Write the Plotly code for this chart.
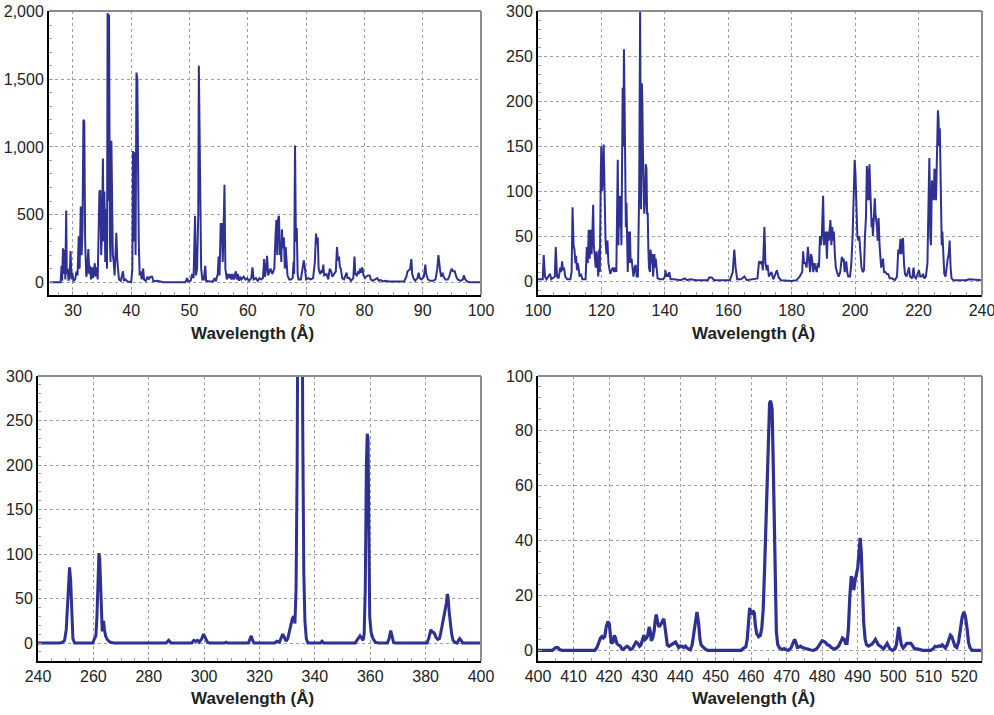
import plotly.graph_objects as go

# ---------------- data ----------------
wl1 = [26.0, 27.9, 28.05, 28.15, 28.3, 28.45, 28.55, 28.7, 28.85, 28.95, 29.1, 29.25, 29.45, 29.6, 29.75, 29.9,
       30.1, 30.4, 30.6, 30.8, 31.0, 31.15, 31.35, 31.5, 31.65, 31.8, 31.95, 32.1, 32.3, 32.45, 32.65, 32.8,
       32.95, 33.1, 33.3, 33.45, 33.6, 33.75, 33.9, 34.1, 34.25, 34.45, 34.55, 34.7, 34.85, 35.0, 35.15, 35.25,
       35.4, 35.55, 35.7, 35.85, 35.95, 36.1, 36.2, 36.35, 36.45, 36.6, 36.75, 36.85, 37.0, 37.15, 37.3, 37.45,
       37.6, 37.75, 37.9, 38.2, 38.6, 38.75, 39.0, 39.4, 40.0, 40.2, 40.3, 40.45, 40.6, 40.75, 40.9, 41.05,
       41.2, 41.3, 41.45, 41.6, 41.8, 42.05, 42.2, 42.5, 42.8, 43.0, 43.3, 43.6, 43.8, 44.4, 45.0, 45.5,
       49.3, 49.6, 49.8, 50.2, 50.45, 50.7, 50.95, 51.1, 51.3, 51.5, 51.6, 51.75, 51.85, 52.0, 52.2, 52.45,
       52.7, 52.85, 53.5, 54.0, 54.3, 54.5, 54.85, 55.0, 55.15, 55.35, 55.55, 55.7, 55.9, 56.0, 56.15, 56.4,
       56.6, 56.8, 57.0, 57.2, 57.4, 57.6, 57.95, 58.1, 58.3, 58.5, 58.7, 58.9, 59.3, 59.6, 59.9, 60.2,
       60.6, 60.8, 61.0, 61.4, 61.7, 62.0, 62.3, 62.6, 62.8, 62.95, 63.15, 63.3, 63.5, 63.9, 64.2, 64.55,
       64.75, 64.9, 65.05, 65.2, 65.35, 65.5, 65.6, 65.75, 65.85, 66.0, 66.2, 66.35, 66.5, 66.65, 66.8, 67.1,
       67.4, 67.7, 67.85, 67.95, 68.1, 68.25, 68.4, 68.55, 68.7, 69.1, 69.45, 69.6, 69.75, 70.0, 70.4, 70.8,
       71.2, 71.5, 71.7, 71.85, 72.0, 72.15, 72.4, 72.6, 72.8, 72.95, 73.1, 73.5, 73.8, 74.05, 74.3, 74.5,
       74.8, 75.1, 75.3, 75.45, 75.65, 75.8, 75.95, 76.2, 76.5, 76.8, 76.95, 77.1, 77.4, 77.7, 78.1, 78.3,
       78.45, 78.7, 78.95, 79.1, 79.25, 79.45, 79.65, 79.85, 80.1, 80.3, 80.6, 80.9, 81.1, 81.4, 81.8, 82.2,
       82.5, 82.8, 83.2, 83.6, 84.2, 84.8, 85.5, 86.2, 86.8, 87.2, 87.4, 87.7, 87.85, 88.05, 88.2, 88.4,
       88.7, 89.1, 89.3, 89.5, 89.8, 90.2, 90.45, 90.6, 90.9, 91.3, 91.8, 92.2, 92.5, 92.7, 92.85, 93.0,
       93.2, 93.4, 93.6, 93.9, 94.3, 94.55, 94.8, 95.0, 95.2, 95.5, 95.75, 96.0, 96.5, 96.9, 97.05, 97.3,
       97.6, 98.0, 100.0]
int1 = [0, 0, 120, 10, 250, 60, 240, 20, 530, 60, 100, 10, 60, 230, 20, 70,
        10, 20, 80, 50, 340, 100, 560, 200, 400, 1200, 1190, 300, 40, 80, 245, 60,
        120, 20, 110, 30, 80, 140, 40, 110, 20, 350, 670, 680, 200, 400, 915, 300,
        670, 150, 540, 100, 1990, 600, 1980, 300, 150, 1045, 600, 200, 150, 50, 200, 365,
        170, 100, 20, 10, 80, 10, 20, 5, 0, 100, 970, 300, 960, 200, 1550, 1500,
        500, 300, 50, 80, 20, 100, 20, 10, 40, 20, 40, 40, 5, 10, 5, 0,
        0, 30, 5, 10, 60, 30, 490, 50, 100, 500, 1600, 1030, 400, 100, 20, 20,
        120, 10, 5, 5, 30, 5, 60, 190, 50, 430, 430, 150, 500, 720, 100, 20,
        60, 30, 60, 20, 60, 20, 80, 20, 60, 10, 40, 20, 40, 20, 30, 10,
        30, 110, 20, 30, 10, 30, 20, 30, 170, 40, 100, 195, 50, 100, 60, 100,
        340, 460, 200, 470, 490, 200, 300, 150, 390, 250, 330, 100, 260, 80, 50, 20,
        20, 30, 150, 60, 1010, 300, 400, 60, 20, 20, 120, 160, 120, 20, 30, 20,
        30, 150, 360, 280, 330, 100, 60, 80, 70, 130, 50, 60, 20, 100, 80, 40,
        60, 80, 260, 160, 190, 110, 100, 30, 20, 50, 70, 30, 30, 10, 30, 190,
        60, 50, 80, 60, 100, 70, 110, 50, 30, 40, 50, 50, 20, 10, 20, 30,
        10, 15, 5, 10, 5, 5, 2, 0, 5, 40, 80, 90, 100, 170, 60, 30,
        10, 30, 70, 30, 20, 40, 130, 60, 20, 10, 10, 20, 100, 200, 120, 80,
        40, 70, 40, 20, 20, 40, 80, 100, 80, 80, 40, 20, 10, 20, 50, 20,
        5, 0, 0]

wl2 = [100.0, 101.5, 101.8, 102.2, 102.7, 103.8, 104.2, 105.3, 105.6, 106.0, 106.5, 107.0, 107.3, 107.6, 107.9,
       108.2, 108.6, 109.2, 110.2, 110.6, 110.9, 111.2, 111.5, 111.8, 112.0, 112.3, 112.5, 112.8, 113.1, 113.5,
       114.0, 115.0, 115.4, 115.7, 116.0, 116.3, 116.6, 116.9, 117.2, 117.4, 117.6, 117.9, 118.2, 118.5, 118.8,
       119.0, 119.3, 119.5, 119.8, 119.95, 120.2, 120.5, 120.7, 120.9, 121.1, 121.3, 121.6, 121.9, 122.2, 122.5,
       122.8, 123.2, 123.6, 124.0, 124.4, 124.7, 125.0, 125.15, 125.35, 125.6, 125.85, 126.0, 126.3, 126.5, 126.7,
       126.9, 127.1, 127.3, 127.5, 127.7, 127.9, 128.1, 128.3, 128.6, 128.8, 129.0, 129.2, 129.5, 129.8, 130.1,
       130.5, 130.8, 131.1, 131.5, 131.9, 132.2, 132.5, 132.75, 132.9, 133.1, 133.3, 133.5, 133.8, 134.0, 134.2,
       134.4, 134.6, 134.8, 135.0, 135.3, 135.5, 135.8, 136.0, 136.3, 136.7, 136.9, 137.1, 137.4, 137.7, 138.5,
       139.5, 140.0, 140.2, 140.5, 140.8, 141.1, 141.4, 141.8, 143.0, 145.0, 146.3, 147.0, 148.0, 150.0, 153.5,
       154.0, 154.8, 155.5, 158.0, 160.5, 161.4, 161.9, 162.3, 162.8, 164.0, 165.1, 165.8, 168.0, 169.2, 169.7,
       170.2, 170.6, 170.9, 171.4, 171.7, 172.1, 172.4, 172.8, 173.3, 173.6, 174.2, 175.0, 175.3, 175.9, 176.6,
       180.0, 181.5, 182.5, 183.3, 183.6, 183.9, 184.3, 184.7, 185.1, 185.5, 185.8, 186.1, 186.4, 186.8, 187.2,
       187.5, 187.9, 188.2, 188.6, 188.9, 189.2, 189.5, 189.9, 190.2, 190.5, 190.8, 191.1, 191.4, 191.7, 192.0,
       192.2, 192.5, 192.8, 193.0, 193.3, 193.6, 193.9, 194.3, 194.8, 195.3, 195.8, 196.1, 196.4, 196.7, 197.0,
       197.2, 197.5, 197.8, 198.4, 198.8, 199.2, 199.6, 199.85, 200.1, 200.4, 200.7, 201.0, 201.3, 201.7, 202.0,
       202.4, 202.8, 203.1, 203.4, 203.7, 203.9, 204.1, 204.3, 204.5, 204.7, 204.9, 205.2, 205.4, 205.6, 205.9,
       206.2, 206.4, 206.6, 206.9, 207.1, 207.4, 207.7, 207.9, 208.2, 208.5, 208.8, 209.1, 209.5, 210.0, 210.4,
       210.9, 211.6, 212.5, 213.2, 213.6, 213.9, 214.3, 214.6, 214.9, 215.1, 215.4, 215.7, 216.2, 216.7, 217.0,
       217.3, 218.0, 218.4, 218.7, 219.2, 219.8, 220.1, 220.5, 221.0, 221.4, 221.8, 222.3, 222.8, 223.2, 223.4,
       223.7, 223.9, 224.2, 224.5, 224.8, 225.0, 225.2, 225.5, 225.7, 225.9, 226.1, 226.3, 226.5, 226.7, 226.9,
       227.1, 227.3, 227.5, 227.8, 228.1, 228.5, 228.9, 229.2, 229.5, 229.8, 230.1, 230.4, 231.0, 235.0, 236.0,
       240.0]
int2 = [2, 2, 29, 5, 2, 8, 2, 5, 38, 5, 3, 15, 10, 22, 12,
        15, 5, 2, 2, 10, 82, 40, 35, 20, 28, 12, 20, 15, 5, 8,
        2, 2, 38, 20, 57, 25, 57, 30, 60, 85, 40, 25, 15, 33, 10,
        5, 35, 10, 120, 150, 100, 120, 152, 100, 80, 45, 30, 45, 20, 15,
        8, 12, 15, 10, 15, 10, 100, 135, 40, 95, 60, 95, 40, 100, 215,
        150, 258, 200, 140, 60, 87, 30, 10, 55, 20, 55, 20, 25, 10, 5,
        15, 18, 5, 5, 100, 300, 80, 220, 200, 140, 100, 75, 90, 130, 125,
        75, 75, 35, 15, 10, 35, 20, 30, 5, 30, 15, 25, 15, 3, 2,
        2, 5, 12, 5, 8, 5, 10, 2, 2, 1, 3, 1, 2, 1, 1,
        4, 4, 1, 1, 1, 10, 35, 15, 2, 2, 5, 1, 2, 3, 22,
        20, 22, 12, 60, 20, 12, 18, 5, 8, 10, 2, 8, 12, 4, 1,
        0, 1, 5, 10, 33, 20, 20, 15, 38, 15, 10, 30, 25, 10, 20,
        15, 10, 20, 15, 50, 40, 50, 95, 40, 50, 55, 25, 55, 45, 58,
        68, 40, 60, 45, 55, 30, 15, 10, 5, 10, 27, 22, 25, 10, 15,
        22, 10, 5, 5, 20, 50, 110, 135, 120, 90, 50, 45, 50, 30, 15,
        10, 12, 50, 70, 128, 90, 125, 90, 130, 100, 75, 60, 70, 50, 70,
        92, 75, 70, 60, 45, 70, 40, 30, 15, 20, 25, 10, 10, 8, 8,
        3, 3, 1, 5, 35, 30, 47, 30, 45, 48, 20, 8, 5, 10, 15,
        5, 3, 15, 5, 3, 8, 12, 5, 5, 8, 3, 5, 20, 100, 137,
        50, 40, 112, 100, 90, 125, 120, 90, 130, 160, 190, 180, 150, 170, 130,
        60, 40, 55, 20, 8, 5, 20, 25, 30, 45, 15, 3, 1, 1, 2,
        1]

wl3 = [240.0, 248.0, 249.0, 249.6, 250.2, 250.6, 251.0, 251.4, 251.8, 252.2, 252.6, 253.2, 259.8, 260.4, 260.9,
       261.3, 261.7, 262.0, 262.3, 262.6, 262.9, 263.2, 263.5, 263.7, 264.0, 264.4, 265.0, 266.0, 267.5, 286.3,
       287.2, 288.0, 295.5, 296.3, 297.0, 297.6, 298.2, 299.0, 299.8, 300.5, 301.2, 302.0, 307.3, 307.9, 308.5,
       316.0, 316.6, 317.0, 317.5, 318.0, 325.5, 326.3, 327.2, 327.8, 328.4, 328.9, 329.6, 330.2, 330.8, 331.4,
       331.9, 332.4, 332.8, 333.2, 333.6, 334.0, 334.4, 334.8, 335.2, 335.6, 336.0, 336.4, 336.9, 337.5, 342.0,
       342.6, 343.2, 354.5, 355.3, 356.3, 357.0, 357.4, 357.8, 358.2, 358.6, 358.9, 359.2, 359.5, 359.8, 360.3,
       361.0, 361.8, 363.0, 366.2, 366.8, 367.4, 367.9, 368.4, 369.0, 380.5, 381.1, 381.6, 381.9, 382.3, 382.8,
       383.3, 383.8, 384.4, 385.0, 385.5, 385.9, 386.3, 386.7, 387.1, 387.5, 387.8, 388.1, 388.5, 388.9, 389.4,
       389.9, 390.5, 391.3, 391.9, 392.3, 392.8, 393.4, 400.0]
int3 = [0, 0, 1, 3, 15, 45, 75, 85, 70, 30, 5, 0, 0, 5, 8,
        30, 80, 101, 95, 60, 20, 13, 22, 25, 15, 8, 4, 1, 0, 0,
        3, 0, 0, 3, 2, 3, 1, 4, 10, 5, 1, 0, 0, 1, 0,
        0, 4, 8, 3, 0, 0, 2, 1, 5, 10, 7, 2, 5, 12, 20,
        28, 30, 22, 60, 200, 500, 700, 700, 600, 250, 80, 25, 5, 0, 0,
        2, 0, 0, 4, 8, 5, 3, 10, 60, 200, 235, 230, 120, 30, 12,
        5, 1, 0, 0, 5, 14, 7, 1, 0, 0, 5, 13, 15, 12, 12,
        10, 6, 4, 5, 12, 18, 28, 33, 38, 45, 55, 52, 35, 20, 10,
        3, 1, 0, 3, 5, 3, 0, 0]

wl4 = [400.0, 404.0, 404.5, 405.0, 405.6, 406.2, 406.8, 416.0, 416.6, 417.1, 417.6, 418.0, 418.4, 418.8, 419.2,
       419.7, 420.1, 420.4, 420.7, 421.1, 421.5, 421.8, 422.2, 422.6, 423.2, 423.6, 424.0, 424.6, 425.1, 425.6,
       426.0, 426.5, 427.1, 427.6, 428.1, 428.6, 429.0, 429.5, 429.8, 430.2, 430.6, 430.9, 431.3, 431.6, 431.9,
       432.3, 432.7, 433.0, 433.3, 433.7, 434.1, 434.6, 435.0, 435.4, 435.7, 436.0, 436.4, 436.9, 437.5, 438.2,
       438.7, 439.2, 439.6, 440.0, 440.5, 441.0, 441.5, 442.0, 442.5, 442.9, 443.4, 443.8, 444.3, 444.75, 445.2,
       445.6, 445.9, 446.5, 447.2, 447.8, 457.2, 457.9, 458.5, 458.9, 459.3, 459.6, 459.9, 460.2, 460.5, 460.9,
       461.2, 461.6, 462.1, 462.6, 463.0, 463.4, 463.8, 464.3, 464.8, 465.2, 465.5, 465.9, 466.2, 466.5, 466.8,
       467.1, 467.5, 468.0, 468.8, 469.3, 469.8, 470.5, 471.2, 471.8, 472.25, 472.7, 473.0, 473.5, 473.9, 474.4,
       474.9, 475.4, 476.0, 476.8, 477.6, 478.4, 479.0, 479.5, 480.0, 480.5, 481.0, 481.5, 482.0, 482.5, 483.0,
       483.5, 484.0, 484.6, 485.2, 485.7, 486.2, 486.6, 487.0, 487.4, 487.8, 488.2, 488.5, 488.9, 489.2, 489.6,
       490.0, 490.4, 490.7, 491.0, 491.3, 491.7, 492.1, 492.5, 493.0, 493.5, 494.0, 494.5, 495.0, 495.4, 495.8,
       496.4, 496.9, 497.3, 497.8, 498.3, 498.7, 499.1, 499.8, 500.5, 500.9, 501.2, 501.55, 501.9, 502.3, 502.8,
       503.3, 503.8, 504.5, 505.0, 505.5, 506.0, 506.8, 507.5, 508.3, 510.5, 511.2, 511.8, 512.4, 512.9, 513.4,
       513.8, 514.3, 514.7, 515.2, 515.7, 516.1, 516.5, 516.9, 517.4, 517.9, 518.4, 518.9, 519.4, 519.9, 520.3,
       520.8, 521.2, 521.6, 522.2, 525.0]
int4 = [0, 0, 0.5, 1, 1, 0.2, 0, 0, 1, 3, 4.5, 5, 4.5, 5, 8.5,
        10.5, 9.5, 5, 2.5, 3, 5.5, 4.5, 2.5, 2, 1.5, 0.5, 0.3, 1, 1.5, 1,
        0.3, 0.5, 2, 3, 2.5, 1.5, 2, 5, 5.5, 4, 4.5, 5.5, 8.5, 7, 3.5,
        4.5, 7, 11, 13, 10, 8.5, 9.5, 10.5, 11.5, 9, 5, 2, 1.5, 2, 2.5,
        3, 2, 1, 1.5, 1.5, 1, 1.5, 0.8, 0.3, 0.2, 2, 5, 10, 14, 10,
        4, 2, 1.2, 0.3, 0, 0, 0.8, 1.2, 4, 10, 15.5, 14, 13, 14.5, 13.5,
        9, 6, 5, 5.5, 8, 15, 30, 55, 80, 90, 91, 88, 70, 45, 20,
        7, 2, 0.8, 0.3, 0.6, 0.2, 0, 0.8, 2.5, 4, 2.5, 1, 1.2, 1.5, 1,
        0.8, 0.6, 0.3, 0.1, 0, 0.5, 1.5, 2.5, 3.5, 3.2, 2.8, 2, 1.8, 1, 0.8,
        0.4, 0.8, 1.5, 3, 4.5, 4, 2.5, 2.5, 8, 20, 27, 26, 22, 25, 27,
        30, 36, 41, 36, 25, 10, 4, 2, 1.5, 1.8, 2.2, 3, 4, 3, 2,
        1.5, 0.8, 0.5, 1.5, 2.5, 1.5, 0.5, 0, 0.5, 2, 5, 8.5, 5, 2, 0.8,
        1.5, 2.5, 2.5, 2.5, 1.5, 0.5, 0.5, 0.4, 0, 0, 0.5, 1.5, 1.3, 1.6, 1.5,
        2, 1.5, 0.8, 2, 4, 5.5, 5, 3, 1.5, 1, 3, 7.5, 12, 14, 12.5,
        8, 3, 1, 0, 0]

x_title = "Wavelength (Å)"

# ---------------- styling ----------------
LINE = "#2e3192"
GRID = "#a0a0a0"
FRAME = "#8c8c8c"
FONT = "Liberation Sans, Arial, sans-serif"
W, H = 994, 715

panels = [
    dict(xpx=(49, 481), ypx=(11, 295), xr=[25.9, 100], yr=[-95, 2005], xd=10, xm=2.5, yd=500, ym=100, lw=2.0,
         x=wl1, y=int1, yfmt=",", title_px=(252, 333)),
    dict(xpx=(538, 982), ypx=(11, 295), xr=[100, 240], yr=[-15.5, 300.5], xd=20, xm=5, yd=50, ym=10, lw=2.0,
         x=wl2, y=int2, yfmt="", title_px=(753, 333)),
    dict(xpx=(38, 481), ypx=(376, 661), xr=[240, 400], yr=[-20.2, 300], xd=20, xm=5, yd=50, ym=10, lw=3.0,
         x=wl3, y=int3, yfmt="", title_px=(252, 698)),
    dict(xpx=(538, 982), ypx=(376, 661), xr=[400, 525], yr=[-3.9, 100], xd=10, xm=5, yd=20, ym=4, lw=3.2,
         x=wl4, y=int4, yfmt="", title_px=(753, 698)),
]

fig = go.Figure()
layout = {}
shapes = []
annotations = []
for i, p in enumerate(panels, start=1):
    sx = "" if i == 1 else str(i)
    xa, ya = "x" + sx, "y" + sx
    fig.add_trace(go.Scatter(x=p["x"], y=p["y"], mode="lines", xaxis=xa, yaxis=ya,
                             line=dict(color=LINE, width=p["lw"]), showlegend=False,
                             hoverinfo="x+y"))
    xdom = [p["xpx"][0] / W, p["xpx"][1] / W]
    ydom = [1 - p["ypx"][1] / H, 1 - p["ypx"][0] / H]
    common = dict(showline=True, linecolor="black", linewidth=2, mirror=False, automargin=False,
                  showgrid=True, gridcolor=GRID, griddash="3px,3px", gridwidth=1,
                  zeroline=False, ticks="inside", ticklen=4, tickcolor=GRID, tickwidth=1,
                  ticklabeloverflow="allow",
                  tickfont=dict(family=FONT, size=16, color="#222222"))
    layout["xaxis" + sx] = dict(common, domain=xdom, anchor=ya, range=p["xr"], dtick=p["xd"], tick0=0,
                                minor=dict(ticks="inside", ticklen=3, dtick=p["xm"], tick0=0,
                                           tickcolor=GRID, showgrid=False))
    layout["yaxis" + sx] = dict(common, domain=ydom, anchor=xa, range=p["yr"], dtick=p["yd"], tick0=0,
                                tickformat=p["yfmt"] if p["yfmt"] else None,
                                minor=dict(ticks="inside", ticklen=3, dtick=p["ym"], tick0=0,
                                           tickcolor=GRID, showgrid=False))
    shapes.append(dict(type="line", xref=xa + " domain", yref=ya + " domain", x0=0, x1=1, y0=1, y1=1,
                       line=dict(color=FRAME, width=2), layer="above"))
    shapes.append(dict(type="line", xref=xa + " domain", yref=ya + " domain", x0=1, x1=1, y0=0, y1=1,
                       line=dict(color=FRAME, width=2), layer="above"))
    annotations.append(dict(text=x_title, xref="paper", yref="paper",
                            x=p["title_px"][0] / W, y=1 - p["title_px"][1] / H,
                            xanchor="center", yanchor="middle", showarrow=False,
                            font=dict(family=FONT, size=17, color="#222222", weight="bold")))

fig.update_layout(**layout)
fig.update_layout(width=W, height=H, margin=dict(l=0, r=0, t=0, b=0, autoexpand=False),
                  paper_bgcolor="white", plot_bgcolor="white", shapes=shapes, annotations=annotations,
                  font=dict(family=FONT, size=16, color="#222222"), separators=".,")
fig.write_html("out.html")
